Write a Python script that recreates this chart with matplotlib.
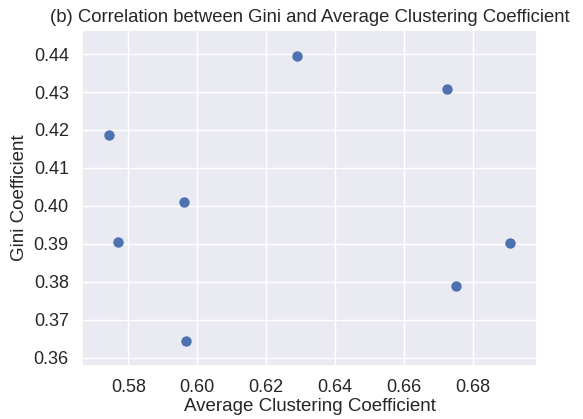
import matplotlib
matplotlib.use("Agg")
import matplotlib.pyplot as plt
import seaborn as sns

sns.set_theme(style="darkgrid")
plt.rcParams['font.family'] = ['Liberation Sans', 'DejaVu Sans']

# average clustering coefficient vs gini
avg_clustering = [0.5745, 0.5769, 0.5962, 0.5967, 0.6288, 0.6725, 0.6749, 0.6906]
gini = [0.4186, 0.3905, 0.4009, 0.3645, 0.4396, 0.4307, 0.3789, 0.3903]

fig = plt.figure(figsize=(5.83, 4.19), dpi=100)
ax = fig.add_axes([0.1407, 0.1265, 0.7805, 0.8015])
ax.scatter(avg_clustering, gini, s=42, color='#4c72b0')

ax.set_xlim(0.5666, 0.6985)
ax.set_ylim(0.3578, 0.4463)
ax.set_xticks([0.58, 0.60, 0.62, 0.64, 0.66, 0.68])
ax.set_yticks([0.36, 0.37, 0.38, 0.39, 0.40, 0.41, 0.42, 0.43, 0.44])
ax.tick_params(labelsize=13)

ax.set_title('(b) Correlation between Gini and Average Clustering Coefficient', fontsize=13.35)
ax.set_xlabel('Average Clustering Coefficient', fontsize=13.5, labelpad=1)
ax.set_ylabel('Gini Coefficient', fontsize=13.5, labelpad=4)

fig.savefig('out.png', dpi=100)
